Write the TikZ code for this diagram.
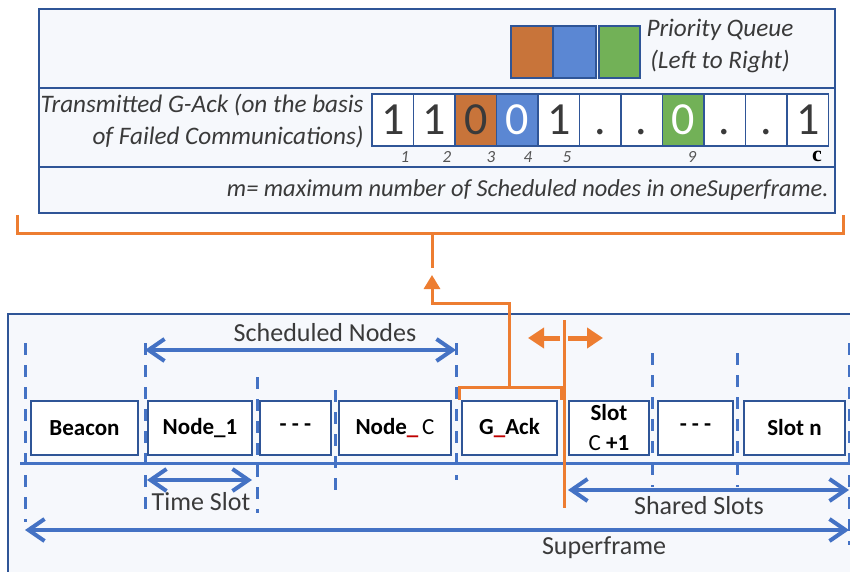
\documentclass[tikz,border=0pt]{standalone}
\usepackage{fontspec}
\setmainfont{Carlito}
\newfontfamily\timesfont{Liberation Serif}
\usetikzlibrary{arrows.meta}
\definecolor{frameblue}{HTML}{2F5597}
\definecolor{lineblue}{HTML}{4472C4}
\definecolor{ackorange}{HTML}{ED7D31}
\definecolor{pqorange}{HTML}{C8743A}
\definecolor{pqblue}{HTML}{5B87D3}
\definecolor{pqgreen}{HTML}{72B157}
\definecolor{paleback}{HTML}{F6F8FC}
\definecolor{textgray}{HTML}{3A3A3A}
\definecolor{idxgray}{HTML}{555555}
\tikzset{%
   slotbox/.style={draw=frameblue, line width=1pt, fill=white, minimum height=27pt,
      inner sep=0pt, align=center, font=\fontsize{11.5}{15}\selectfont\bfseries},
   bitcell/.style={draw=frameblue, line width=0.8pt, minimum width=20.75pt,
      minimum height=26pt, inner sep=0pt, text height=15pt, text depth=0pt,
      font=\fontsize{23}{23}\selectfont},
   italictext/.style={inner sep=0pt, text=textgray, font=\fontsize{12.6}{16}\selectfont\itshape},
   idxlabel/.style={inner sep=0pt, text=idxgray, font=\fontsize{8.5}{8.5}\selectfont\itshape},
   spanlabel/.style={inner sep=0pt, text=textgray, font=\fontsize{13}{13}\selectfont},
   guide/.style={lineblue, line width=1.5pt, dash pattern=on 6pt off 5pt},
   span/.style={lineblue, line width=2pt,
      {Straight Barb[length=8pt,width=11pt]}-{Straight Barb[length=8pt,width=11pt]}},
   ackline/.style={ackorange, line width=1.5pt},
   acktip/.style={-{Triangle[length=7pt,width=8pt]}},
}
\begin{document}
\begin{tikzpicture}[x=0.5pt,y=-0.5pt]%
      \useasboundingbox (0,0) rectangle (850,572);%
      \clip (0,0) rectangle (850,572);%
      \fill[white] (0,0) rectangle (850,572);%
      % ~ top box
      \draw[frameblue, line width=1pt, fill=paleback] (39,9) rectangle (835,213);%
      \draw[frameblue, line width=1pt] (39,88) -- (835,88);%
      \draw[frameblue, line width=1pt] (39,167) -- (835,167);%
      % priority queue
      \fill[pqorange] (511,26) rectangle (553,78);%
      \fill[pqblue] (553,26) rectangle (596,78);%
      \fill[pqgreen] (599,26) rectangle (640,78);%
      \draw[frameblue, line width=0.8pt] (511,26) rectangle (553,78) (553,26) rectangle (596,78);%
      \draw[frameblue, line width=0.8pt] (599,26) rectangle (640,78);%
      \node[italictext, align=center] (pqlbl) at (720,46) {Priority Queue\\(Left to Right)};
      % G-Ack bits
      \node[italictext, anchor=east, align=right] (acklbl) at (364,121)
         {Transmitted G-Ack (on the basis\\of Failed Communications)};
      \foreach \v/\bg/\fg [count=\i] in {1/white/textgray, 1/white/textgray,
         0/pqorange/textgray, 0/pqblue/white, 1/white/textgray, {.}/white/textgray,
         {.}/white/textgray, 0/pqgreen/white, {.}/white/textgray, {.}/white/textgray,
         1/white/textgray}%
         {%
            \node[bitcell, fill=\bg, text=\fg] (bit\i) at ({372+41.5*(\i-0.5)},120) {\v};
         }%
      \foreach \n/\x in {1/405, 2/447, 3/491, 4/528, 5/567, 9/692}%
         {%
            \node[idxlabel] (idx\n) at (\x,157) {\n};
         }%
      \node[inner sep=0pt, font=\fontsize{11}{11}\timesfont\bfseries] (idxc) at (817,156) {c};
      \node[italictext, anchor=east, font=\fontsize{12.2}{16}\selectfont\itshape] (mlbl) at (829,190)
         {m= maximum number of Scheduled nodes in oneSuperframe.};
      % ~ superframe box
      \draw[frameblue, line width=1pt, fill=paleback] (8,314) rectangle (870,590);%
      % dashed guides
      \foreach \x/\ya/\yb in {25/343/522, 145/343/513, 257/377/513, 335/390/490,
         456/343/480, 652/353/487, 737/353/487, 849/343/545}%
         {%
            \draw[guide] (\x,\ya) -- (\x,\yb);%
         }%
      % slots
      \foreach \nm/\cx/\w/\lbl in {beacon/84.5/107/Beacon, nodeone/200/104/Node\_1,
         dotsa/295.5/71/{-~-~-}, nodec/395/112/{Node{\color{red!75!black}\_}\,{\mdseries C}},
         gack/509.5/95/{G{\color{red!75!black}\_}Ack}, slotc/609/80/{Slot\\{\mdseries C} +1},
         dotsb/695.5/75/{-~-~-}, slotn/794.5/101/{Slot n}}%
         {%
            \node[slotbox, minimum width=\w*0.5pt] (\nm) at (\cx,428) {\lbl};
         }%
      % timeline
      \coordinate (tlstart) at (20,463);%
      \coordinate (tlend) at (850,463);%
      \draw[lineblue, line width=1.5pt] (tlstart) -- (tlend);%
      % spans
      \coordinate (schedl) at (145,350);%
      \coordinate (schedr) at (456,350);%
      \draw[span] (schedl) -- (schedr);%
      \node[spanlabel] (schedlbl) at (325,333) {Scheduled Nodes};
      \coordinate (tsl) at (147,480);%
      \coordinate (tsr) at (252,480);%
      \draw[span] (tsl) -- (tsr);%
      \node[spanlabel] (tslbl) at (201,502) {Time Slot};
      \coordinate (shl) at (568,490);%
      \coordinate (shr) at (849,490);%
      \draw[span] (shl) -- (shr);%
      \node[spanlabel] (shlbl) at (699,506) {Shared Slots};
      \coordinate (sfl) at (25,530);%
      \coordinate (sfr) at (849,530);%
      \draw[span] (sfl) -- (sfr);%
      \node[spanlabel] (sflbl) at (604,548) {Superframe};
      % ~ orange G-Ack feedback
      \coordinate (brkl) at (17,215);%
      \coordinate (brkr) at (843,215);%
      \coordinate (brkm) at (432,233);%
      \coordinate (stemend) at (432,268);%
      \draw[ackline] (brkl) |- (brkm) -| (brkr);%
      \draw[ackline] (brkm) -- (stemend);%
      \coordinate (ackstem) at (509,387);%
      \coordinate (ackbend) at (509,303);%
      \coordinate (acktop) at (432,275);%
      \draw[ackline] ([xshift=-1pt]gack.north west) |- (ackstem) -| ([xshift=1.5pt]gack.north east);%
      \draw[ackline, acktip] (ackstem) -- (ackbend) -| (acktop);%
      % split line and move arrows
      \coordinate (splittop) at (564,320);%
      \coordinate (splitbot) at (564,508);%
      \draw[ackline] (splittop) -- (splitbot);%
      \coordinate (movels) at (560,338);%
      \coordinate (movel) at (528,338);%
      \coordinate (movers) at (568,338);%
      \coordinate (mover) at (603,338);%
      \draw[ackorange, line width=2.5pt, -{Triangle[length=8pt,width=10pt]}] (movels) -- (movel);%
      \draw[ackorange, line width=2.5pt, -{Triangle[length=8pt,width=10pt]}] (movers) -- (mover);%
         %
   \end{tikzpicture}
\end{document}
